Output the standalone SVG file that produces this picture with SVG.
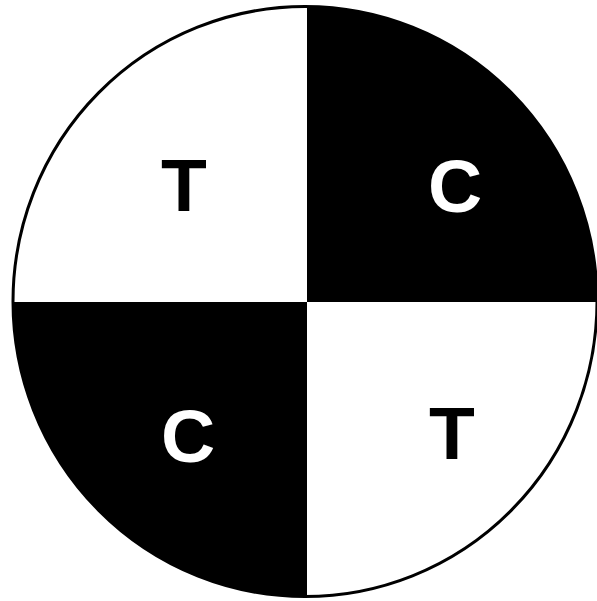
<svg xmlns="http://www.w3.org/2000/svg" width="597" height="601" viewBox="0 0 597 601">
<defs>
<clipPath id="cc"><ellipse cx="305" cy="301.5" rx="292" ry="295"/></clipPath>
<style>
.lbl{font-family:"Liberation Sans",Arial,sans-serif;font-weight:bold;font-size:75px;text-anchor:middle}
</style>
</defs>
<rect width="597" height="601" fill="#fff"/>
<g id="quadrants" clip-path="url(#cc)">
<rect id="q-tr" x="307" y="0" width="300" height="302" fill="#000"/>
<rect id="q-bl" x="0" y="302" width="307" height="300" fill="#000"/>
</g>
<ellipse id="outline" cx="305" cy="301.5" rx="292" ry="295" fill="none" stroke="#000" stroke-width="3"/>
<g id="labels">
<text class="lbl" x="184" y="211" fill="#000">T</text>
<text class="lbl" x="455" y="212" fill="#fff">C</text>
<text class="lbl" x="188" y="462" fill="#fff">C</text>
<text class="lbl" x="452" y="459" fill="#000">T</text>
</g>
</svg>
